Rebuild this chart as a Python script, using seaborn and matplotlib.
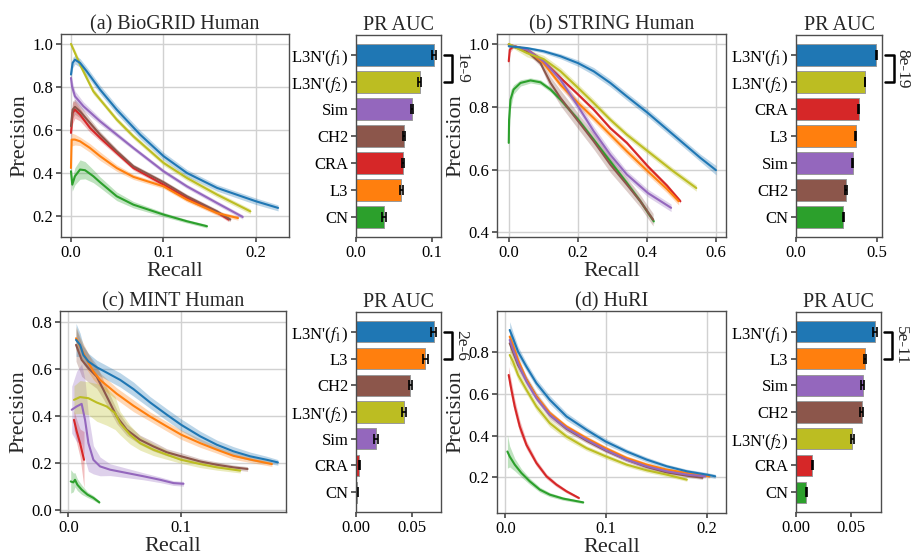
import matplotlib
matplotlib.use("Agg")
import matplotlib.pyplot as plt
import seaborn as sns

# ---------------------------------------------------------------- methods
METHODS = ["L3N'f1", "L3N'f2", "Sim", "CH2", "CRA", "L3", "CN"]
COLORS = {"L3N'f1": "#1f77b4", "L3N'f2": "#bcbd22", "Sim": "#9467bd",
          "CH2": "#8c564b", "CRA": "#d62728", "L3": "#ff7f0e", "CN": "#2ca02c"}
LABELS = {"L3N'f1": r"L3N'($f_1$)", "L3N'f2": r"L3N'($f_2$)", "Sim": "Sim",
          "CH2": "CH2", "CRA": "CRA", "L3": "L3", "CN": "CN"}
DRAW_ORDER = ["CN", "CRA", "CH2", "L3", "Sim", "L3N'f2", "L3N'f1"]

# ---------------------------------------------------------------- (a) BioGRID Human
biogrid_recall = {
    "L3N'f1": [0, .0018, .0043, .0098, .017, .0315, .0495, .0749, .1002, .1255, .158, .2, .2242],
    "L3N'f2": [0, .0043, .0098, .017, .0242, .0315, .0495, .0676, .1002, .1255, .158, .1942],
    "Sim": [0, .0011, .0043, .0134, .0315, .0495, .0676, .1002, .1255, .158, .1859],
    "CH2": [0, .0018, .0043, .0098, .0206, .0315, .0495, .0676, .1002, .1255, .158, .1725],
    "CRA": [0, .0018, .0043, .0098, .0206, .0315, .0495, .0676, .1002, .1255, .158, .1707],
    "L3": [0, .0007, .0043, .0098, .0206, .0315, .0495, .0676, .1002, .1255, .158, .1808],
    "CN": [0, .0014, .0043, .0098, .0152, .0242, .0315, .0495, .0676, .1002, .1255, .1472],
}
biogrid_precision = {
    "L3N'f1": [.858, .912, .927, .912, .873, .788, .695, .579, .479, .401, .332, .270, .239],
    "L3N'f2": [1.0, .958, .904, .842, .780, .742, .649, .571, .448, .378, .301, .223],
    "Sim": [.842, .803, .757, .711, .641, .579, .517, .409, .339, .262, .197],
    "CH2": [.618, .695, .708, .687, .633, .579, .502, .432, .358, .293, .223, .185],
    "CRA": [.587, .680, .695, .672, .610, .564, .494, .424, .347, .285, .219, .185],
    "L3": [.424, .556, .556, .548, .517, .479, .424, .383, .339, .277, .215, .192],
    "CN": [.409, .347, .386, .417, .414, .386, .358, .293, .254, .208, .177, .154],
}
biogrid_band = {
    "L3N'f1": [.03, .025, .02, .02, .02, .02, .02, .02, .018, .016, .015, .015, .014],
    "L3N'f2": [.01, .015, .015, .015, .015, .012, .012, .012, .012, .012, .012, .012],
    "Sim": [.04, .03, .025, .02, .015, .012, .01, .01, .01, .01, .01],
    "CH2": [.05, .04, .035, .03, .02, .015, .012, .01, .01, .01, .01, .01],
    "CRA": [.05, .05, .04, .03, .02, .015, .012, .01, .01, .01, .01, .01],
    "L3": [.03, .03, .025, .02, .02, .02, .015, .012, .01, .01, .01, .01],
    "CN": [.04, .03, .04, .045, .04, .03, .025, .02, .015, .01, .008, .008],
}
biogrid_bar_order = ["L3N'f1", "L3N'f2", "Sim", "CH2", "CRA", "L3", "CN"]
biogrid_auc = [.103, .084, .074, .063, .062, .060, .037]
biogrid_err = [.003, .002, .0015, .0015, .0015, .002, .002]

# ---------------------------------------------------------------- (b) STRING Human
string_recall = {
    "L3N'f1": [0, .053, .101, .150, .201, .246, .294, .342, .403, .487, .555, .600],
    "L3N'f2": [0, .053, .101, .150, .201, .246, .294, .342, .403, .477, .543],
    "CRA": [0, .003, .014, .053, .101, .150, .201, .246, .294, .342, .403, .458, .497],
    "L3": [0, .053, .101, .150, .201, .246, .294, .342, .403, .458, .492],
    "Sim": [0, .053, .101, .150, .201, .246, .294, .342, .403, .470],
    "CH2": [0, .053, .092, .121, .150, .201, .246, .294, .342, .381, .418],
    "CN": [0, .001, .005, .014, .034, .063, .092, .121, .150, .201, .246, .294, .342, .381, .420],
}
string_precision = {
    "L3N'f1": [.993, .987, .977, .961, .939, .913, .876, .833, .780, .701, .637, .598],
    "L3N'f2": [1.0, .971, .952, .913, .860, .812, .759, .711, .658, .594, .541],
    "CRA": [.945, .982, .993, .982, .945, .892, .839, .791, .732, .685, .610, .549, .499],
    "L3": [.998, .982, .939, .870, .812, .764, .711, .658, .594, .538, .499],
    "Sim": [.998, .982, .945, .886, .801, .722, .647, .584, .525, .478],
    "CH2": [.998, .977, .939, .876, .828, .754, .690, .616, .552, .499, .440],
    "CN": [.685, .759, .823, .855, .876, .884, .878, .855, .823, .759, .695, .626, .557, .499, .435],
}
string_band = {
    "L3N'f1": [.005, .005, .006, .008, .01, .012, .012, .012, .012, .012, .012, .015],
    "L3N'f2": [.005, .012, .012, .012, .012, .012, .01, .01, .01, .01, .01],
    "CRA": [.02, .01, .005, .005, .005, .006, .006, .006, .006, .006, .006, .006, .006],
    "L3": [.003, .008, .01, .012, .012, .012, .012, .012, .012, .012, .012],
    "Sim": [.003, .006, .01, .015, .015, .015, .015, .012, .012, .012],
    "CH2": [.003, .006, .01, .02, .025, .025, .025, .025, .022, .02, .02],
    "CN": [.08, .05, .03, .015, .01, .008, .008, .008, .008, .008, .008, .008, .008, .008, .008],
}
string_bar_order = ["L3N'f1", "L3N'f2", "CRA", "L3", "Sim", "CH2", "CN"]
string_auc = [.496, .426, .388, .368, .351, .306, .291]
string_err = [.004, .003, .003, .003, .003, .006, .003]

# ---------------------------------------------------------------- (c) MINT Human
mint_recall = {
    "L3N'f1": [.0068, .0104, .0133, .0178, .0251, .034, .0459, .0577, .0725, .0873, .1, .1169,
               .1317, .1464, .1612, .176, .1858],
    "L3": [.0068, .0104, .0163, .0222, .0281, .0429, .0577, .0725, .0873, .1, .1169, .1317,
           .1464, .1642, .1805],
    "CH2": [.0068, .0118, .0178, .0251, .0311, .037, .0429, .0518, .0636, .0754, .0873, .1,
            .1169, .1317, .1464, .1589],
    "L3N'f2": [.005, .0104, .0178, .0251, .034, .0414, .0459, .0547, .0636, .0754, .0873, .1,
               .1169, .1317, .1524],
    "Sim": [.003, .0074, .0118, .0148, .0178, .0222, .0281, .037, .0518, .0666, .0814, .0932, .1021],
    "CRA": [.005, .0074, .0104, .0139],
    "CN": [.0021, .0044, .0059, .008, .0118, .0169, .0222, .0275],
}
mint_precision = {
    "L3N'f1": [.722, .701, .658, .630, .606, .583, .552, .513, .456, .404, .361, .312, .276,
               .248, .227, .212, .201],
    "L3": [.729, .694, .637, .588, .552, .493, .442, .396, .354, .319, .283, .255, .229, .210, .194],
    "CH2": [.701, .637, .602, .566, .510, .453, .396, .340, .297, .269, .244, .227, .205, .191,
            .180, .173],
    "L3N'f2": [.467, .479, .474, .456, .439, .411, .368, .319, .283, .255, .234, .212, .194,
               .180, .166],
    "Sim": [.425, .439, .450, .382, .283, .212, .184, .170, .156, .142, .127, .113, .110],
    "CRA": [.382, .333, .283, .212],
    "CN": [.120, .116, .127, .106, .085, .064, .050, .031],
}
mint_band = {
    "L3N'f1": [.07, .05, .04, .035, .03, .03, .03, .03, .025, .025, .025, .022, .02, .02, .018,
               .015, .012],
    "L3": [.05, .04, .04, .035, .03, .025, .025, .02, .02, .02, .018, .015, .015, .012, .01],
    "CH2": [.07, .07, .06, .05, .04, .035, .03, .025, .02, .02, .015, .015, .012, .012, .01, .01],
    "L3N'f2": [.06, .07, .07, .08, .08, .07, .05, .04, .03, .025, .02, .015, .015, .012, .01],
    "Sim": [.1, .15, .17, .17, .12, .06, .04, .025, .02, .015, .012, .01, .01],
    "CRA": [.04, .05, .06, .12],
    "CN": [.05, .04, .03, .025, .02, .012, .01, .006],
}
mint_bar_order = ["L3N'f1", "L3", "CH2", "L3N'f2", "Sim", "CRA", "CN"]
mint_auc = [.0700, .0625, .0490, .0430, .0180, .0030, .0010]
mint_err = [.0022, .0020, .0015, .0020, .0015, .0006, .0004]

# ---------------------------------------------------------------- (d) HuRI
huri_recall = {
    "L3N'f1": [.0043, .0076, .0126, .0209, .0308, .0441, .0607, .0806, .0995, .1204, .1403,
               .1602, .1801, .2, .2083],
    "L3": [.0043, .0076, .0126, .0209, .0308, .0441, .0607, .0806, .0995, .1204, .1403, .1602,
           .1801, .2027],
    "Sim": [.0043, .0126, .0209, .0308, .0441, .0607, .0806, .0995, .1204, .1403, .1602, .1801, .1983],
    "CH2": [.0043, .0126, .0209, .0308, .0441, .0607, .0806, .0995, .1204, .1403, .1602, .1801, .1957],
    "L3N'f2": [.0043, .0076, .0126, .0209, .0308, .0441, .0607, .0806, .0995, .1204, .1403,
               .1602, .1801],
    "CRA": [.0033, .006, .0093, .0143, .0209, .0308, .0408, .0507, .0607, .073],
    "CN": [.002, .0043, .0093, .0159, .0242, .0342, .0441, .0574, .0773],
}
huri_precision = {
    "L3N'f1": [.907, .867, .803, .731, .652, .572, .492, .428, .372, .324, .285, .253, .229, .213, .205],
    "L3": [.875, .835, .763, .668, .588, .508, .444, .388, .340, .293, .261, .237, .221, .205],
    "Sim": [.859, .747, .660, .580, .500, .436, .380, .332, .285, .253, .229, .213, .205],
    "CH2": [.843, .739, .668, .588, .500, .433, .376, .329, .285, .250, .224, .208, .198],
    "L3N'f2": [.787, .755, .691, .620, .540, .460, .396, .340, .301, .261, .234, .213, .189],
    "CRA": [.691, .620, .540, .444, .356, .269, .205, .165, .133, .101],
    "CN": [.324, .300, .261, .221, .181, .141, .117, .098, .080],
}
huri_band = {
    "L3N'f1": [.04, .03, .025, .02, .02, .02, .018, .015, .015, .012, .012, .01, .01, .01, .01],
    "L3": [.03, .025, .02, .015, .012, .012, .01, .01, .01, .01, .01, .008, .008, .008],
    "Sim": [.03, .025, .02, .015, .012, .012, .01, .01, .01, .01, .008, .008, .008],
    "CH2": [.03, .025, .02, .02, .02, .015, .012, .01, .01, .01, .008, .008, .008],
    "L3N'f2": [.04, .03, .025, .02, .02, .018, .015, .012, .012, .01, .01, .01, .008],
    "CRA": [.04, .04, .035, .03, .02, .015, .012, .01, .008, .006],
    "CN": [.08, .05, .03, .02, .015, .012, .01, .008, .006],
}
huri_bar_order = ["L3N'f1", "L3", "Sim", "CH2", "L3N'f2", "CRA", "CN"]
huri_auc = [.0721, .0630, .0609, .0600, .0515, .0148, .0094]
huri_err = [.0015, .0012, .0015, .0015, .0015, .0004, .0003]

# ---------------------------------------------------------------- style
sns.set_theme(style="whitegrid")
plt.rcParams.update({
    "font.family": ["Liberation Serif", "DejaVu Serif"],
    "mathtext.fontset": "stix",
    "axes.edgecolor": "0.3",
    "axes.linewidth": 1.0,
    "grid.color": "0.82",
    "grid.linewidth": 1.0,
    "xtick.bottom": True,
    "ytick.left": True,
    "xtick.color": "0.3",
    "ytick.color": "0.3",
    "xtick.labelcolor": "black",
    "ytick.labelcolor": "black",
    "xtick.major.size": 3.5,
    "ytick.major.size": 3.5,
    "xtick.major.pad": 2,
    "ytick.major.pad": 2,
    "xtick.labelsize": 12,
    "ytick.labelsize": 12,
})

W, H = 919, 556
fig = plt.figure(figsize=(W / 100, H / 100), dpi=100)


def box(l, t, r, b):
    return [l / W, 1 - b / H, (r - l) / W, (b - t) / H]


def curve_panel(rect, title, rec, prec, band, xlim, ylim, xticks, yticks):
    ax = fig.add_axes(box(*rect))
    for m in DRAW_ORDER:
        x, y, e = rec[m], prec[m], band[m]
        lo = [a - b for a, b in zip(y, e)]
        hi = [a + b for a, b in zip(y, e)]
        ax.fill_between(x, lo, hi, color=COLORS[m], alpha=0.3, lw=0)
        sns.lineplot(x=x, y=y, ax=ax, color=COLORS[m], lw=1.5,
                     estimator=None, sort=False)
    ax.set_xlim(*xlim)
    ax.set_ylim(*ylim)
    ax.set_xticks(xticks)
    ax.set_yticks(yticks)
    ax.set_title(title, fontsize=14.5, pad=3)
    ax.set_xlabel("Recall", fontsize=16, labelpad=1)
    ax.set_ylabel("Precision", fontsize=16, labelpad=2)
    return ax


def bar_panel(rect, order, auc, err, xmax, xticks, pval):
    ax = fig.add_axes(box(*rect))
    names = [LABELS[m] for m in order]
    pal = [COLORS[m] for m in order]
    sns.barplot(x=auc, y=names, hue=names, palette=pal, legend=False, ax=ax,
                orient="h", saturation=1, errorbar=None, width=0.8,
                edgecolor="0.6", linewidth=0.7)
    ax.errorbar(auc, list(range(len(order))), xerr=err, fmt="none",
                ecolor="black", elinewidth=1.2, capsize=3.5, capthick=1.2)
    ax.grid(False)
    ax.set_xlim(0, xmax)
    ax.set_ylim(len(order) - 0.26, -0.74)
    ax.set_xticks(xticks)
    ax.set_xlabel("")
    ax.set_ylabel("")
    ax.set_title("PR AUC", fontsize=14.5, pad=3)
    # significance bracket between the two top bars
    tr = ax.get_yaxis_transform()
    x0, x1 = 1.03, 1.135
    ax.plot([x0, x1, x1, x0], [0, 0, 1, 1], transform=tr, color="black",
            lw=1.8, clip_on=False)
    ax.text(1.24, 0.5, pval, transform=tr, rotation=-90, ha="center",
            va="center", fontsize=12.5)
    return ax


curve_panel((61, 34, 289, 237), "(a) BioGRID Human", biogrid_recall,
            biogrid_precision, biogrid_band, (-0.0108, 0.236), (0.104, 1.046),
            [0, 0.1, 0.2], [0.2, 0.4, 0.6, 0.8, 1.0])
bar_panel((356, 35, 441, 237), biogrid_bar_order, biogrid_auc, biogrid_err,
          0.1123, [0, 0.1], "1e-9")

curve_panel((497, 34, 726, 237), "(b) STRING Human", string_recall,
            string_precision, string_band, (-0.034, 0.629), (0.385, 1.032),
            [0, 0.2, 0.4, 0.6], [0.4, 0.6, 0.8, 1.0])
bar_panel((796, 35, 882, 237), string_bar_order, string_auc, string_err,
          0.531, [0, 0.5], "8e-19")

curve_panel((60, 311, 286, 512), "(c) MINT Human", mint_recall,
            mint_precision, mint_band, (-0.0074, 0.193), (-0.01, 0.845),
            [0, 0.1], [0.0, 0.2, 0.4, 0.6, 0.8])
bar_panel((356, 312, 441, 512), mint_bar_order, mint_auc, mint_err,
          0.0765, [0, 0.05], "2e-6")

curve_panel((497, 311, 726, 513), "(d) HuRI", huri_recall,
            huri_precision, huri_band, (-0.0083, 0.219), (0.029, 0.998),
            [0, 0.1, 0.2], [0.2, 0.4, 0.6, 0.8])
bar_panel((796, 312, 881, 512), huri_bar_order, huri_auc, huri_err,
          0.0776, [0, 0.05], "5e-11")

fig.savefig("out.png", dpi=100)
